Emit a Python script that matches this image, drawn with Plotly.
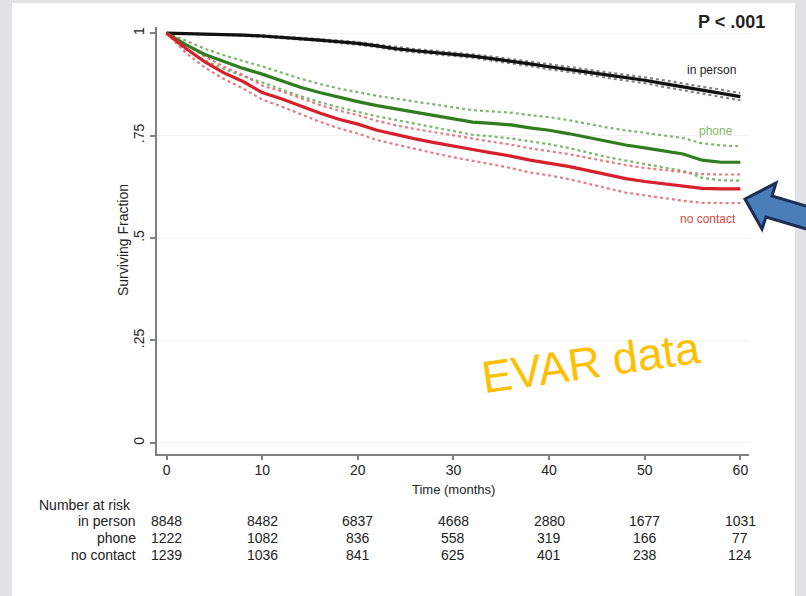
import plotly.graph_objects as go

W, H = 806, 596

# ---------------- data ----------------
months = [0, 2, 4, 6, 8, 10, 12, 14, 16, 18, 20, 22, 24, 26, 28, 30,
          32, 34, 36, 38, 40, 42, 44, 46, 48, 50, 52, 54, 56, 58, 60]

in_person = [1.0, 0.999, 0.998, 0.997, 0.995, 0.993, 0.990, 0.987, 0.983, 0.979, 0.975,
             0.969, 0.962, 0.957, 0.953, 0.949, 0.944, 0.938, 0.932, 0.925, 0.918,
             0.912, 0.905, 0.898, 0.892, 0.885, 0.877, 0.869, 0.861, 0.853, 0.845]
in_person_hi = [1.0, 0.999, 0.998, 0.998, 0.996, 0.995, 0.992, 0.989, 0.985, 0.982, 0.978,
                0.972, 0.966, 0.961, 0.957, 0.953, 0.948, 0.943, 0.937, 0.930, 0.924,
                0.918, 0.911, 0.905, 0.899, 0.892, 0.885, 0.877, 0.869, 0.862, 0.854]
in_person_lo = [1.0, 0.998, 0.997, 0.996, 0.994, 0.991, 0.988, 0.985, 0.981, 0.976, 0.972,
                0.966, 0.958, 0.953, 0.949, 0.945, 0.940, 0.933, 0.927, 0.920, 0.912,
                0.906, 0.899, 0.891, 0.885, 0.878, 0.869, 0.861, 0.853, 0.844, 0.836]

phone = [1.0, 0.972, 0.948, 0.930, 0.914, 0.900, 0.884, 0.868, 0.855, 0.843, 0.833,
         0.823, 0.815, 0.807, 0.798, 0.790, 0.783, 0.780, 0.776, 0.769, 0.763,
         0.755, 0.745, 0.735, 0.727, 0.720, 0.712, 0.705, 0.690, 0.685, 0.685]
phone_hi = [1.0, 0.982, 0.962, 0.946, 0.932, 0.919, 0.904, 0.889, 0.876, 0.865, 0.856,
            0.847, 0.840, 0.833, 0.825, 0.818, 0.812, 0.809, 0.806, 0.800, 0.795,
            0.788, 0.779, 0.770, 0.763, 0.757, 0.750, 0.744, 0.731, 0.726, 0.724]
phone_lo = [1.0, 0.960, 0.933, 0.913, 0.895, 0.880, 0.863, 0.846, 0.832, 0.819, 0.808,
            0.797, 0.788, 0.779, 0.769, 0.760, 0.752, 0.748, 0.743, 0.736, 0.729,
            0.720, 0.709, 0.698, 0.689, 0.681, 0.672, 0.664, 0.647, 0.641, 0.640]

no_contact = [1.0, 0.963, 0.930, 0.903, 0.882, 0.855, 0.840, 0.822, 0.805, 0.790, 0.778,
              0.763, 0.752, 0.742, 0.733, 0.724, 0.716, 0.708, 0.700, 0.690, 0.683,
              0.675, 0.665, 0.655, 0.645, 0.638, 0.632, 0.626, 0.621, 0.620, 0.620]
no_contact_hi = [1.0, 0.973, 0.943, 0.918, 0.898, 0.872, 0.858, 0.841, 0.825, 0.811, 0.800,
                 0.786, 0.775, 0.766, 0.758, 0.750, 0.742, 0.735, 0.728, 0.719, 0.712,
                 0.705, 0.696, 0.687, 0.678, 0.671, 0.666, 0.660, 0.656, 0.655, 0.655]
no_contact_lo = [1.0, 0.952, 0.916, 0.888, 0.865, 0.838, 0.821, 0.802, 0.784, 0.768, 0.755,
                 0.739, 0.728, 0.717, 0.707, 0.697, 0.689, 0.680, 0.671, 0.660, 0.653,
                 0.644, 0.633, 0.622, 0.611, 0.604, 0.597, 0.591, 0.586, 0.585, 0.585]

risk_times = [0, 10, 20, 30, 40, 50, 60]
risk_in_person = [8848, 8482, 6837, 4668, 2880, 1677, 1031]
risk_phone = [1222, 1082, 836, 558, 319, 166, 77]
risk_no_contact = [1239, 1036, 841, 625, 401, 238, 124]

group_names = ["in person", "phone", "no contact"]
y_tickvals = [0, 0.25, 0.5, 0.75, 1]
y_ticktext = ["0", ".25", ".5", ".75", "1"]
x_tickvals = [0, 10, 20, 30, 40, 50, 60]

# ---------------- helpers (pixel -> paper) ----------------
def px(x):
    return x / W

def py(y):
    return 1 - y / H

FONT = "Liberation Sans, Arial, sans-serif"

fig = go.Figure()

series = [
    (in_person, in_person_lo, in_person_hi, "#111111", "rgba(110,110,110,0.85)"),
    (phone, phone_lo, phone_hi, "#2f7d1f", "rgba(110,175,95,0.9)"),
    (no_contact, no_contact_lo, no_contact_hi, "#d7202b", "rgba(225,110,115,0.9)"),
]
for (est, lo, hi, col, cicol), name in zip(series, group_names):
    for ci in (lo, hi):
        fig.add_trace(go.Scatter(x=months, y=ci, mode="lines",
                                 line=dict(color=cicol, width=2.2, dash="dot"),
                                 showlegend=False, hoverinfo="skip"))
for (est, lo, hi, col, cicol), name in zip(series, group_names):
    fig.add_trace(go.Scatter(x=months, y=est, mode="lines",
                             line=dict(color=col, width=3.2), name=name,
                             showlegend=False))

x0p, x1p = 157, 749
y0p, y1p = 454, 27

fig.update_layout(
    width=W, height=H,
    margin=dict(l=0, r=0, t=0, b=0),
    paper_bgcolor="#e2e2e4",
    plot_bgcolor="rgba(0,0,0,0)",
    showlegend=False,
    font=dict(family=FONT, color="#222222", size=14),
    xaxis=dict(domain=[px(x0p), px(x1p)], range=[-1, 60.9],
               tickvals=x_tickvals, ticks="outside", ticklen=4, tickwidth=1.5,
               ticklabelstandoff=-2,
               tickcolor="#808080", showline=True, linecolor="#808080", linewidth=2,
               showgrid=False, zeroline=False, tickfont=dict(size=14, color="#222")),
    yaxis=dict(domain=[py(y0p), py(y1p)], range=[-0.027, 1.015],
               tickvals=y_tickvals, ticktext=y_ticktext, tickangle=-90,
               ticks="outside", ticklen=5, tickwidth=1.5, tickcolor="#808080",
               showline=True, linecolor="#808080", linewidth=2,
               showgrid=True, gridcolor="#f1f1f1", gridwidth=1, zeroline=False,
               tickfont=dict(size=14, color="#222")),
)

shapes = []
# white slide panel
shapes.append(dict(type="rect", xref="paper", yref="paper", x0=px(12), x1=px(795),
                   y0=py(596), y1=py(3), fillcolor="white", line=dict(width=0),
                   layer="below"))
# block arrow pointing at the no-contact curve
pts = [(745, 199), (776, 183), (772, 196), (830, 213), (823, 234), (766, 217), (762, 229)]
path = "M " + " L ".join(f"{px(a):.5f},{py(b):.5f}" for a, b in pts) + " Z"
shapes.append(dict(type="path", xref="paper", yref="paper", path=path,
                   fillcolor="#4a7ebb", line=dict(color="#1c2f52", width=3)))
fig.update_layout(shapes=shapes)

ann = []
# axis titles
ann.append(dict(text="Time (months)", x=30, xref="x", y=py(489), yref="paper",
                showarrow=False, xanchor="center", yanchor="middle",
                font=dict(size=13, color="#222")))
ann.append(dict(text="Surviving Fraction", x=px(123), xref="paper", y=py(240), yref="paper",
                showarrow=False, textangle=-90, xanchor="center", yanchor="middle",
                font=dict(size=14, color="#222")))
# p value
ann.append(dict(text="<b>P < .001</b>", x=px(767), xref="paper", y=py(22), yref="paper",
                showarrow=False, xanchor="right", yanchor="middle",
                font=dict(size=18, color="#222")))
# curve labels
ann.append(dict(text="in person", x=px(738), xref="paper", y=py(70), yref="paper",
                showarrow=False, xanchor="right", yanchor="middle",
                font=dict(size=12, color="#222")))
ann.append(dict(text="phone", x=px(735), xref="paper", y=py(131), yref="paper",
                showarrow=False, xanchor="right", yanchor="middle",
                font=dict(size=12, color="#86b36c")))
ann.append(dict(text="no contact", x=px(738), xref="paper", y=py(219), yref="paper",
                showarrow=False, xanchor="right", yanchor="middle",
                font=dict(size=12, color="#d8473e")))
# EVAR data
ann.append(dict(text="EVAR data", x=px(591), xref="paper", y=py(362), yref="paper",
                showarrow=False, xanchor="center", yanchor="middle", textangle=-8,
                font=dict(size=45, color="#ffc000", family=FONT)))
# number at risk table
ann.append(dict(text="Number at risk", x=px(37), xref="paper", y=py(505), yref="paper",
                showarrow=False, xanchor="left", yanchor="middle",
                font=dict(size=14, color="#222")))
row_y = [521, 538, 555]
for name, vals, ry in zip(group_names, [risk_in_person, risk_phone, risk_no_contact], row_y):
    ann.append(dict(text=name, x=px(138), xref="paper", y=py(ry), yref="paper",
                    showarrow=False, xanchor="right", yanchor="middle",
                    font=dict(size=14, color="#222")))
    for t, v in zip(risk_times, vals):
        ann.append(dict(text=str(v), x=t, xref="x", y=py(ry), yref="paper",
                        showarrow=False, xanchor="center", yanchor="middle",
                        font=dict(size=14, color="#222")))
fig.update_layout(annotations=ann)

fig.write_html("out.html")
